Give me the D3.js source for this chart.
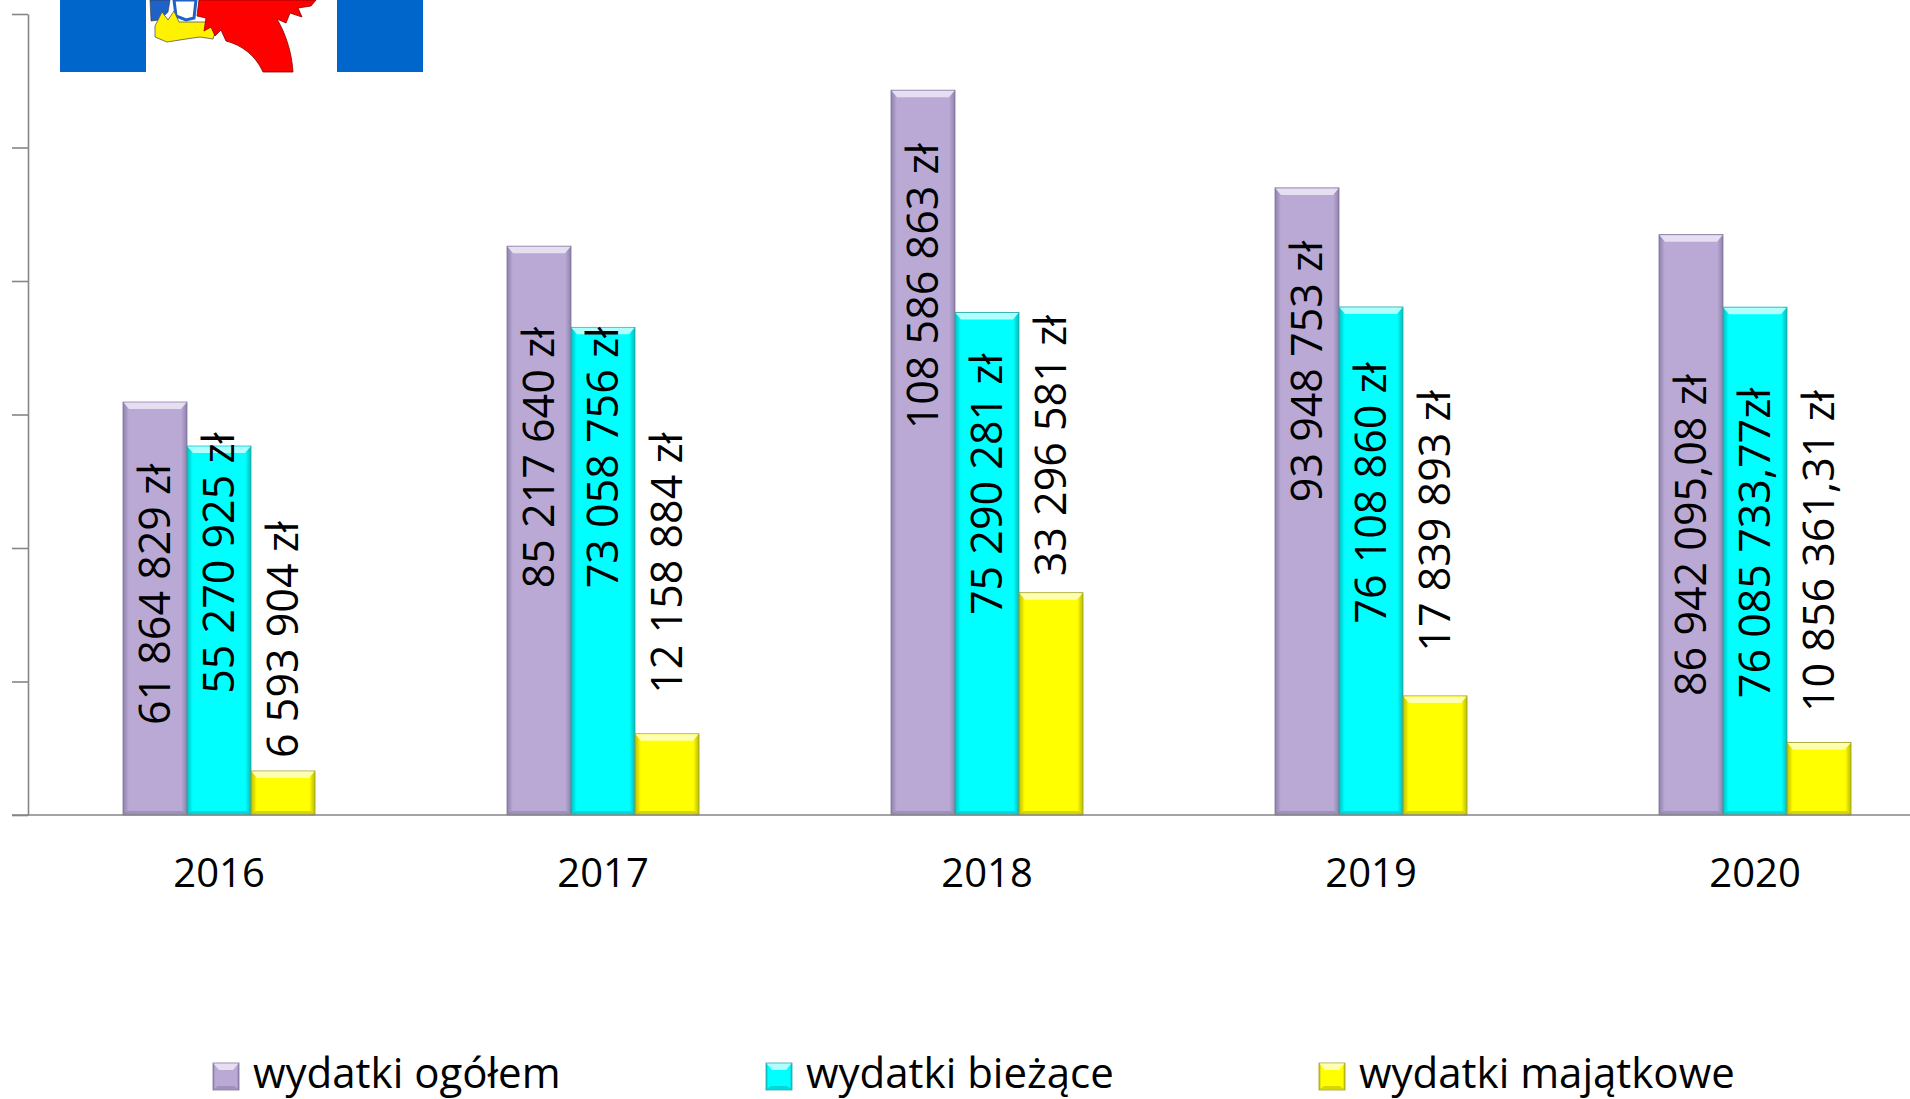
<!DOCTYPE html>
<html lang="pl">
<head>
<meta charset="utf-8">
<script src="https://cdn.jsdelivr.net/npm/d3@7"></script>
<style>
  html, body { margin: 0; padding: 0; background: #fff; overflow: hidden; }
  svg { display: block; font-family: "Open Sans", "Noto Sans", sans-serif; }
</style>
</head>
<body>
<svg id="chart" width="1910" height="1099"></svg>
<script>
// Wydatki budżetu w latach 2016–2020 (zł)
const years = ["2016", "2017", "2018", "2019", "2020"];
const seriesNames = ["wydatki ogółem", "wydatki bieżące", "wydatki majątkowe"];

const wydatkiOgolem     = [61864829, 85217640, 108586863, 93948753, 86942095.08];
const wydatkiBiezace    = [55270925, 73058756, 75290281, 76108860, 76085733.77];
const wydatkiMajatkowe  = [6593904, 12158884, 33296581, 17839893, 10856361.31];

const labelsOgolem    = ["61 864 829 zł", "85 217 640 zł", "108 586 863 zł", "93 948 753 zł", "86 942 095,08 zł"];
const labelsBiezace   = ["55 270 925 zł", "73 058 756 zł", "75 290 281 zł", "76 108 860 zł", "76 085 733,77zł"];
const labelsMajatkowe = ["6 593 904 zł", "12 158 884 zł", "33 296 581 zł", "17 839 893 zł", "10 856 361,31 zł"];

const yTicks = [0, 20e6, 40e6, 60e6, 80e6, 100e6, 120e6];

// where each rotated value label ends (on the value axis, in zł)
const labelEndOgolem    = [52.6e6, 73.1e6, 100.6e6, 86.0e6, 66.0e6];
const labelEndBiezace   = [57.3e6, 73.1e6, 69.1e6, 67.8e6, 64.0e6];
const labelEndMajatkowe = [44.0e6, 57.3e6, 74.9e6, 63.6e6, 63.6e6];

const seriesValues = [wydatkiOgolem, wydatkiBiezace, wydatkiMajatkowe];
const seriesLabels = [labelsOgolem, labelsBiezace, labelsMajatkowe];
const seriesLabelEnd = [labelEndOgolem, labelEndBiezace, labelEndMajatkowe];

const palette = [
  { base: "#B9A9D4", light: "#E6DFF2", dark: "#8F80AC", edge: "#7F7298" },
  { base: "#00FFFF", light: "#B0FFFF", dark: "#00BEBE", edge: "#2AA6A6" },
  { base: "#FFFF00", light: "#FFFFB0", dark: "#BDBD00", edge: "#9C9C28" }
];

const svg = d3.select("#chart");
const defs = svg.append("defs");

palette.forEach((c, i) => {
  const g = defs.append("linearGradient").attr("id", "side" + i)
    .attr("x1", 0).attr("x2", 1).attr("y1", 0).attr("y2", 0);
  [[0, c.dark], [0.09, c.base], [0.91, c.base], [1, c.dark]].forEach(([o, col]) =>
    g.append("stop").attr("offset", o).attr("stop-color", col));
});

const baseY = 815;
const y = d3.scaleLinear().domain([0, 120e6]).range([baseY, 14]);
const x0 = d3.scaleBand().domain(years).range([27, 1947]).paddingInner(0.5).paddingOuter(0.25);
const x1 = d3.scaleBand().domain(d3.range(3)).range([0, x0.bandwidth()]);

// Logo fragment in the corner
const logo = svg.append("g");
logo.append("rect").attr("x", 60).attr("y", 0).attr("width", 86).attr("height", 72).attr("fill", "#0066CC");
logo.append("rect").attr("x", 337).attr("y", 0).attr("width", 86).attr("height", 72).attr("fill", "#0066CC");
logo.append("path").attr("d", "M150,0 L170,0 L168,12 L160,20 L151,21 Z").attr("fill", "#1E62C8").attr("stroke", "#333").attr("stroke-width", 0.6);
logo.append("path").attr("d", "M174,0 L196,0 L194,18 L186,20 L176,16 Z").attr("fill", "#fff").attr("stroke", "#1E62C8").attr("stroke-width", 3);
logo.append("path")
  .attr("d", "M155,26 L162,12 L168,20 L174,11 L179,22 L205,22 L216,30 L213,39 L200,37 L186,39 L167,42 L155,37 Z")
  .attr("fill", "#FFF200").attr("stroke", "#555").attr("stroke-width", 0.8);
logo.append("path")
  .attr("d", "M199,0 L316,0 L311,6 L298,8 L302,17 L290,13 L286,23 L277,19 C287,36 292,55 293,72 L263,72 C256,56 242,45 226,41 L221,30 L215,36 L211,27 L204,31 L206,18 L197,16 Z")
  .attr("fill", "#FF0000").attr("stroke", "#8A0000").attr("stroke-width", 0.8);

// Value axis (ticks only)
const yAxis = svg.append("g").attr("transform", "translate(28,0)")
  .call(d3.axisLeft(y).tickValues(yTicks).tickFormat("").tickSize(16).tickSizeOuter(0));
yAxis.select(".domain").attr("stroke", "#868686").attr("stroke-width", 1.6);
yAxis.selectAll(".tick line").attr("stroke", "#868686").attr("stroke-width", 1.6);

// Bars with bevelled edges
function bevelBar(sel, x, w, top, bottom, c, i) {
  sel.append("rect").attr("x", x).attr("y", top).attr("width", w).attr("height", bottom - top)
    .attr("fill", `url(#side${i})`).attr("stroke", c.edge).attr("stroke-width", 0.8);
  const b = Math.min(7, (bottom - top) / 3);
  sel.append("path")
    .attr("d", `M${x + 0.5},${top + 0.5} L${x + w - 0.5},${top + 0.5} L${x + w - 6},${top + b} L${x + 6},${top + b} Z`)
    .attr("fill", c.light);
  sel.append("path")
    .attr("d", `M${x + 0.5},${bottom - 0.5} L${x + w - 0.5},${bottom - 0.5} L${x + w - 5},${bottom - 4} L${x + 5},${bottom - 4} Z`)
    .attr("fill", c.dark).attr("opacity", 0.6);
}

const groups = svg.append("g").selectAll("g").data(years).join("g")
  .attr("transform", d => `translate(${x0(d)},0)`);

groups.each(function (yr, yi) {
  const g = d3.select(this);
  seriesValues.forEach((vals, si) => {
    bevelBar(g, x1(si), x1.bandwidth(), y(vals[yi]), y(0), palette[si], si);
  });
});

// Category axis
const xAxis = svg.append("g").attr("transform", `translate(0,${baseY})`)
  .call(d3.axisBottom(x0).tickSize(0).tickSizeOuter(0));
xAxis.select(".domain").remove();
xAxis.selectAll("text").attr("y", 72).attr("dy", 0)
  .attr("font-size", 40).attr("fill", "#000").attr("font-family", "'Open Sans', sans-serif");
svg.append("line").attr("x1", 12).attr("x2", 1910).attr("y1", baseY).attr("y2", baseY)
  .attr("stroke", "#868686").attr("stroke-width", 1.6);

// Rotated value labels
groups.each(function (yr, yi) {
  const g = d3.select(this);
  seriesLabels.forEach((labels, si) => {
    const cx = x1(si) + x1.bandwidth() / 2;
    const ey = y(seriesLabelEnd[si][yi]);
    g.append("text")
      .attr("transform", `translate(${cx},${ey}) rotate(-90)`)
      .attr("text-anchor", "end")
      .attr("dy", "0.36em")
      .attr("font-size", 43)
      .attr("fill", "#000")
      .text(labels[yi]);
  });
});

// Legend
const legendX = [213, 766, 1319];
const legend = svg.append("g");
seriesNames.forEach((name, i) => {
  const g = legend.append("g");
  bevelBar(g, legendX[i], 26, 1063, 1090, palette[i], i);
  g.append("text").attr("x", legendX[i] + 40).attr("y", 1088)
    .attr("font-size", 42).attr("fill", "#000").text(name);
});
</script>
</body>
</html>
